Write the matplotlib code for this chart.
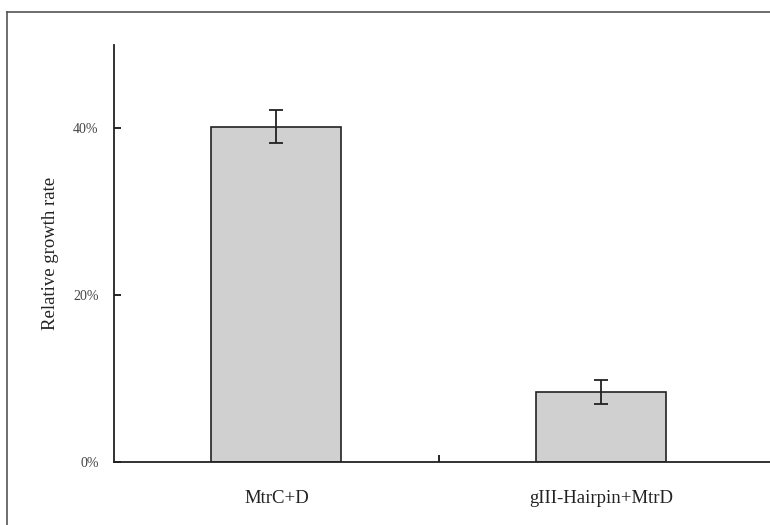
import matplotlib.pyplot as plt
from matplotlib.lines import Line2D

# data
groups = ["MtrC+D", "gIII-Hairpin+MtrD"]
growth = [40.2, 8.4]
errors = [1.95, 1.45]
ytick_vals = [0, 20, 40]
ytick_labels = ["0%", "20%", "40%"]

plt.rcParams['font.family'] = ['Liberation Serif', 'DejaVu Serif']

fig = plt.figure(figsize=(7.7, 5.25), dpi=100)
ax = fig.add_axes([114 / 770, 1 - 462 / 525, 1 - 114 / 770, (462 - 45) / 525])

x = list(range(len(groups)))
ax.bar(x, growth, width=0.4, color="#d0d0d0", edgecolor="#222222", linewidth=1.2, zorder=2)
ax.errorbar(x, growth, yerr=errors, fmt="none", ecolor="#222222", elinewidth=1.3,
            capsize=5, capthick=1.3, zorder=3)

ax.set_xlim(-0.5, 1.52)
ax.set_ylim(0, 50)
ax.set_yticks(ytick_vals)
ax.set_yticklabels(ytick_labels, fontsize=10, color="#444444")
ax.set_xticks(x)
ax.set_xticklabels(groups, fontsize=13.5, color="#222222")
ax.set_xticks([0.5], minor=True)
ax.tick_params(axis="x", which="major", length=0, pad=20)
ax.tick_params(axis="x", which="minor", direction="in", length=5, width=1.2)
ax.tick_params(axis="y", direction="in", length=5, width=1.2, pad=11)

for side in ["top", "right"]:
    ax.spines[side].set_visible(False)
for side in ["left", "bottom"]:
    ax.spines[side].set_linewidth(1.3)
    ax.spines[side].set_color("#222222")

ax.set_ylabel("Relative growth rate", fontsize=13.5, color="#222222", labelpad=10)

# outer frame from the scan (top and left edges)
fig.add_artist(Line2D([7 / 770, 1], [1 - 12 / 525, 1 - 12 / 525], color="#555555", linewidth=1.2))
fig.add_artist(Line2D([7 / 770, 7 / 770], [0, 1 - 12 / 525], color="#555555", linewidth=1.2))

fig.savefig("out.png", dpi=100)
